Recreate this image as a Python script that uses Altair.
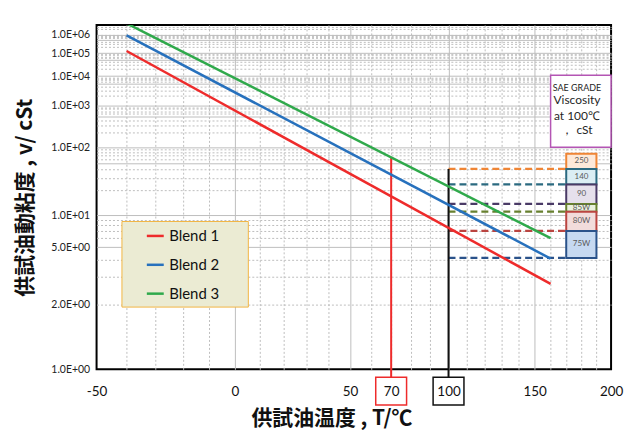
import math
import altair as alt
import numpy as np
import pandas as pd

# ---------------- data ----------------
blends = ["Blend 1", "Blend 2", "Blend 3"]
blend_colors = ["#EE2B2B", "#2771BD", "#2FA94B"]
line_temps = [-40, 160]
blend1_visc = [1.28e5, 2.68]
blend2_visc = [8.85e5, 4.05]
blend3_visc = [4.8e6, 6.0]

marker_temps = [70, 100]
marker_tops = [64.6, 41.0]
marker_colors = ["#EE2B2B", "#111111"]

sae_grades = ["250", "140", "90", "85W", "80W", "75W"]
sae_low = [41.0, 24.0, 13.5, 11.0, 7.0, 4.1]
sae_high = [75.0, 41.0, 24.0, 13.5, 11.0, 7.0]
sae_line_colors = ["#EF8535", "#2B6A80", "#4A3A66", "#67802F", "#BA4440", "#2A528A"]
sae_fill_colors = ["#FDE9D9", "#DBEEF4", "#E6E0EC", "#EBF1DE", "#F2DCDB", "#C6D9F1"]

sae_title_lines = ["SAE GRADE", "Viscosity", "at 100\u2103", "\uff0c cSt"]
sae_title_visc = [3600, 1460, 527, 226]
sae_title_sizes = [9, 12, 12, 12]

x_grid_temps = list(range(-50, 201, 10))
x_label_temps = [-50, 0, 50, 70, 100, 150, 200]
y_grid_visc = [k * 10 ** n for n in range(0, 7) for k in range(1, 10) if k * 10 ** n <= 3.8e6]
y_label_visc = [1, 2, 5, 10, 100, 1000, 10000, 100000, 1000000]
y_label_text = ["1.0E+00", "2.0E+00", "5.0E+00", "1.0E+01", "1.0E+02",
                "1.0E+03", "1.0E+04", "1.0E+05", "1.0E+06"]

# ---------------- ASTM D341 style transforms ----------------
def tx(t):
    return math.log10(t + 273.15)

def ty(v):
    return math.log10(math.log10(v + 0.7))

def XE(f):
    return f"log(datum.{f} + 273.15) / LN10"

def YE(f):
    return f"log(log(datum.{f} + 0.7) / LN10) / LN10"

x_domain = [tx(-50), tx(200)]
y_domain = [ty(1), ty(3.8e6)]
xs = alt.Scale(domain=x_domain, nice=False, zero=False)
ys = alt.Scale(domain=y_domain, nice=False, zero=False)

W, H = 517, 346

x_vals = [tx(t) for t in x_grid_temps]
x_labs = [str(t) if t in x_label_temps else "" for t in x_grid_temps]
x_major = [tx(t) for t in x_grid_temps if t % 50 == 0]
x_edges = [tx(-50), tx(200)]

y_vals = [ty(v) for v in y_grid_visc]
y_labs = [y_label_text[y_label_visc.index(v)] if v in y_label_visc else "" for v in y_grid_visc]
y_major = [ty(v) for v in y_grid_visc if str(v)[0] in ("1", "5")]
y_edges = [ty(1)]

def js(a):
    return "[" + ",".join(repr(float(v)) if not isinstance(v, str) else "'" + v + "'" for v in a) + "]"

x_axis = alt.Axis(
    values=x_vals,
    labelExpr=f"{js(x_labs)}[indexof({js(x_vals)}, datum.value)]",
    grid=True,
    gridColor="#BDBDBD",
    gridWidth=1,
    gridDash={"condition": {"test": f"indexof({js(x_major)}, datum.value) >= 0", "value": []}, "value": [2, 2]},
    gridOpacity={"condition": {"test": f"indexof({js(x_edges)}, datum.value) >= 0", "value": 0}, "value": 1},
    ticks=False, domain=False,
    labelFont="Lato", labelFontSize=13.5, labelColor="#111111",
    labelPadding=22, labelBaseline="middle",
    labelFlush=False, labelOverlap=False,
    title="供試油温度 , T/\u2103",
    titleFont="Noto Sans CJK JP", titleFontSize=21, titleFontWeight="bold", titleColor="#111111",
    titleX=236, titleY=49, titleAlign="center", titleBaseline="middle", titleAnchor="start",
)

y_axis = alt.Axis(
    values=y_vals,
    labelExpr=f"{js(y_labs)}[indexof({js(y_vals)}, datum.value)]",
    grid=True,
    gridColor="#BDBDBD",
    gridWidth=1,
    gridDash={"condition": {"test": f"indexof({js(y_major)}, datum.value) >= 0", "value": []}, "value": [2, 2]},
    gridOpacity={"condition": {"test": f"indexof({js(y_edges)}, datum.value) >= 0", "value": 0}, "value": 1},
    ticks=False, domain=False,
    labelFont="Lato", labelFontSize=10.5, labelColor="#222222",
    labelPadding=7, labelFlush=False, labelOverlap=False,
    title="供試油動粘度 , v/ cSt",
    titleFont="Noto Sans CJK JP", titleFontSize=21, titleFontWeight="bold", titleColor="#111111",
    titleX=-71, titleY=H / 2, titleAngle=270, titleAlign="center", titleBaseline="middle", titleAnchor="start",
)

pad = "\u00a0" * 6 + "\u200b"
legend = alt.Legend(
    orient="none", legendX=25, legendY=197, title=None,
    fillColor="#EBEBD3", strokeColor="#F2B544", padding=5,
    symbolType="stroke", symbolSize=289, symbolStrokeWidth=2.5, symbolOffset=19,
    labelFont="Lato", labelFontSize=15, labelColor="#111111", labelOffset=4,
    rowPadding=11, labelExpr=f"datum.label + '{pad}'",
)

# ---------------- tables ----------------
lines_df = pd.DataFrame({
    "blend": np.repeat(blends, len(line_temps)),
    "T": line_temps * 3,
    "v": blend1_visc + blend2_visc + blend3_visc,
})
marker_df = pd.DataFrame({"T": marker_temps, "top": marker_tops, "col": marker_colors})
sae_df = pd.DataFrame({"grade": sae_grades, "lo": sae_low, "hi": sae_high,
                       "col": sae_line_colors, "fill": sae_fill_colors})
sae_title_df = pd.DataFrame({"text": sae_title_lines, "v": sae_title_visc, "fs": sae_title_sizes})
sae_box_df = pd.DataFrame({"T0": [160], "T1": [200], "lo": [100], "hi": [1.08e4]})

def X(f):
    return alt.X(f, scale=xs, axis=x_axis)

def Y(f):
    return alt.Y(f, scale=ys, axis=y_axis)

# ---------------- layers ----------------
sae_box = alt.Chart(sae_box_df).transform_calculate(
    X=XE("T0"), X1=XE("T1"), Y=YE("lo"), Y1=YE("hi")
).mark_rect(fill="white", stroke="#B455B4", strokeWidth=1.5).encode(
    x=X("X:Q"), x2="X1:Q", y=Y("Y:Q"), y2="Y1:Q",
)

sae_title = alt.Chart(sae_title_df).transform_calculate(
    X="log(177 + 273.15) / LN10", Y=YE("v")
).mark_text(font="Lato", color="#262626", baseline="middle", align="center").encode(
    x=X("X:Q"), y=Y("Y:Q"),
    text="text:N",
    size=alt.Size("fs:Q", scale=None),
)

dashes = alt.Chart(sae_df).transform_calculate(
    X="log(100 + 273.15) / LN10", X1="log(170 + 273.15) / LN10", Y=YE("lo")
).mark_rule(strokeDash=[7, 4], strokeWidth=2.3).encode(
    x=X("X:Q"), x2="X1:Q", y=Y("Y:Q"),
    stroke=alt.Stroke("col:N", scale=None),
)

boxes = alt.Chart(sae_df).transform_calculate(
    X="log(170 + 273.15) / LN10", X1="log(190 + 273.15) / LN10", Y=YE("lo"), Y1=YE("hi")
).mark_rect(strokeWidth=2).encode(
    x=X("X:Q"), x2="X1:Q", y=Y("Y:Q"), y2="Y1:Q",
    fill=alt.Fill("fill:N", scale=None),
    stroke=alt.Stroke("col:N", scale=None),
)

box_text = alt.Chart(sae_df).transform_calculate(
    X="log(180 + 273.15) / LN10", Y=f"({YE('lo')} + {YE('hi')}) / 2"
).mark_text(font="Lato", fontSize=8, color="#595959", baseline="middle").encode(
    x=X("X:Q"), y=Y("Y:Q"),
    text="grade:N",
)

rules = alt.Chart(marker_df).transform_calculate(
    X=XE("T"), Y=YE("top")
).mark_rule(strokeWidth=2).encode(
    x=X("X:Q"), y=Y("Y:Q"),
    y2=alt.value(H + 8),
    stroke=alt.Stroke("col:N", scale=None),
)

label_boxes = alt.Chart(marker_df).transform_calculate(
    X=XE("T")
).mark_point(shape="M-1,-0.9H1V0.9H-1Z", size=961, filled=False, strokeWidth=1.5, opacity=1).encode(
    x=X("X:Q"),
    y=alt.value(H + 22),
    stroke=alt.Stroke("col:N", scale=None),
)

lines = alt.Chart(lines_df).transform_calculate(
    X=XE("T"), Y=YE("v")
).mark_line(strokeWidth=2.5, clip=True).encode(
    x=X("X:Q"), y=Y("Y:Q"),
    color=alt.Color("blend:N", scale=alt.Scale(domain=blends, range=blend_colors), legend=legend),
)

chart = alt.layer(
    sae_box, sae_title, dashes, boxes, box_text, rules, label_boxes, lines
).resolve_scale(
    stroke="independent", fill="independent"
).properties(
    width=W, height=H,
    autosize=alt.AutoSizeParams(type="none"),
    padding={"left": 89, "top": 16, "right": 14, "bottom": 66},
).configure(
    font="Lato", background="white"
).configure_view(
    stroke="#000000", strokeWidth=2
)

chart.save("out.html", embed_options={"renderer": "svg", "actions": False})
